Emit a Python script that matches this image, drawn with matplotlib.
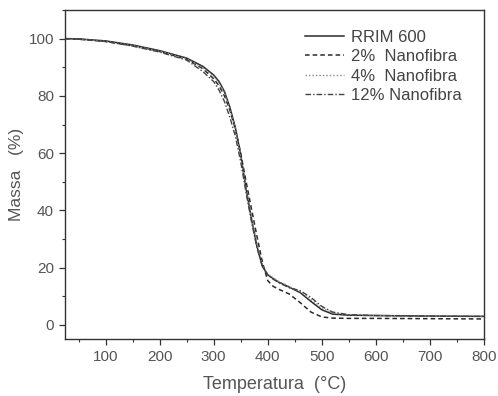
import matplotlib
matplotlib.use("Agg")
import matplotlib.pyplot as plt
from matplotlib.ticker import MultipleLocator

plt.rcParams['font.family'] = ['Liberation Sans', 'DejaVu Sans']

temp = [25, 50, 100, 150, 200, 250, 280, 300, 310, 320, 330, 340, 350, 360, 370,
        380, 390, 400, 410, 420, 440, 460, 480, 500, 520, 550, 600, 700, 800]
rrim600 = [100, 99.9, 99.2, 97.8, 95.8, 93.2, 90.3, 87.3, 85.0, 81.5, 76, 69, 59.5, 47.5, 37,
           27.5, 20.5, 17.5, 16.2, 15.0, 13.2, 11.3, 8.2, 5.3, 3.8, 3.4, 3.3, 3.1, 3.0]
nano2 = [100, 99.8, 99.0, 97.5, 95.5, 92.8, 89.5, 86.0, 83.5, 80.0, 75, 68.5, 60, 50, 40.5,
         31, 22, 15.5, 13.5, 12.5, 10.8, 7.8, 4.5, 2.8, 2.4, 2.3, 2.3, 2.2, 2.1]
nano4 = [100, 99.8, 99.1, 97.6, 95.6, 93.0, 89.8, 86.8, 84.5, 81.0, 75.5, 68.5, 59, 47.5, 37.5,
         28, 21, 17.8, 16.5, 15.2, 13.4, 11.6, 8.9, 6.0, 4.2, 3.5, 3.3, 3.1, 3.0]
nano12 = [100, 99.8, 99.0, 97.4, 95.3, 92.5, 88.5, 85.0, 82.0, 78.0, 72.5, 66, 57, 46, 36,
          27, 20.5, 17.5, 16.0, 14.8, 13.0, 12.0, 9.6, 6.5, 4.5, 3.6, 3.3, 3.1, 3.0]
labels = ['RRIM 600', '2%  Nanofibra', '4%  Nanofibra', '12% Nanofibra']

fig = plt.figure(figsize=(4.98, 3.96), dpi=100)
ax = fig.add_axes([0.1305, 0.1432, 0.8414, 0.8316])

lc = '#2a2a2a'
ax.plot(temp, rrim600, color=lc, lw=1.1, ls='-', label=labels[0])
ax.plot(temp, nano2, color=lc, lw=1.1, ls=(0, (3, 2)), label=labels[1])
ax.plot(temp, nano4, color='#888888', lw=1.0, ls=(0, (1, 1.5)), label=labels[2])
ax.plot(temp, nano12, color='#444444', lw=1.0, ls=(0, (4, 1.5, 1, 1.5)), label=labels[3])

ax.set_xlim(25, 800)
ax.set_ylim(-5, 110)
ax.xaxis.set_minor_locator(MultipleLocator(50))
ax.yaxis.set_major_locator(MultipleLocator(20))
ax.yaxis.set_minor_locator(MultipleLocator(10))
ax.set_xticks(range(100, 801, 100))

tc = '#555555'
for s in ax.spines.values():
    s.set_color('#333333')
    s.set_linewidth(1.0)
ax.tick_params(which='major', direction='out', length=4, width=0.9, color='#333333',
               labelsize=11, labelcolor=tc, pad=4)
ax.tick_params(which='minor', direction='out', length=2, width=0.8, color='#333333')

ax.set_xlabel('Temperatura  (°C)', fontsize=13, color=tc, labelpad=8)
ax.set_ylabel('Massa   (%)', fontsize=12.5, color=tc, labelpad=3)

leg = ax.legend(loc='upper right', bbox_to_anchor=(0.975, 0.975), frameon=False,
                fontsize=12, handlelength=2.3, handletextpad=0.45,
                labelspacing=0.26, borderpad=0.2)
for t in leg.get_texts():
    t.set_color('#444444')

fig.savefig('out.png', dpi=100)
